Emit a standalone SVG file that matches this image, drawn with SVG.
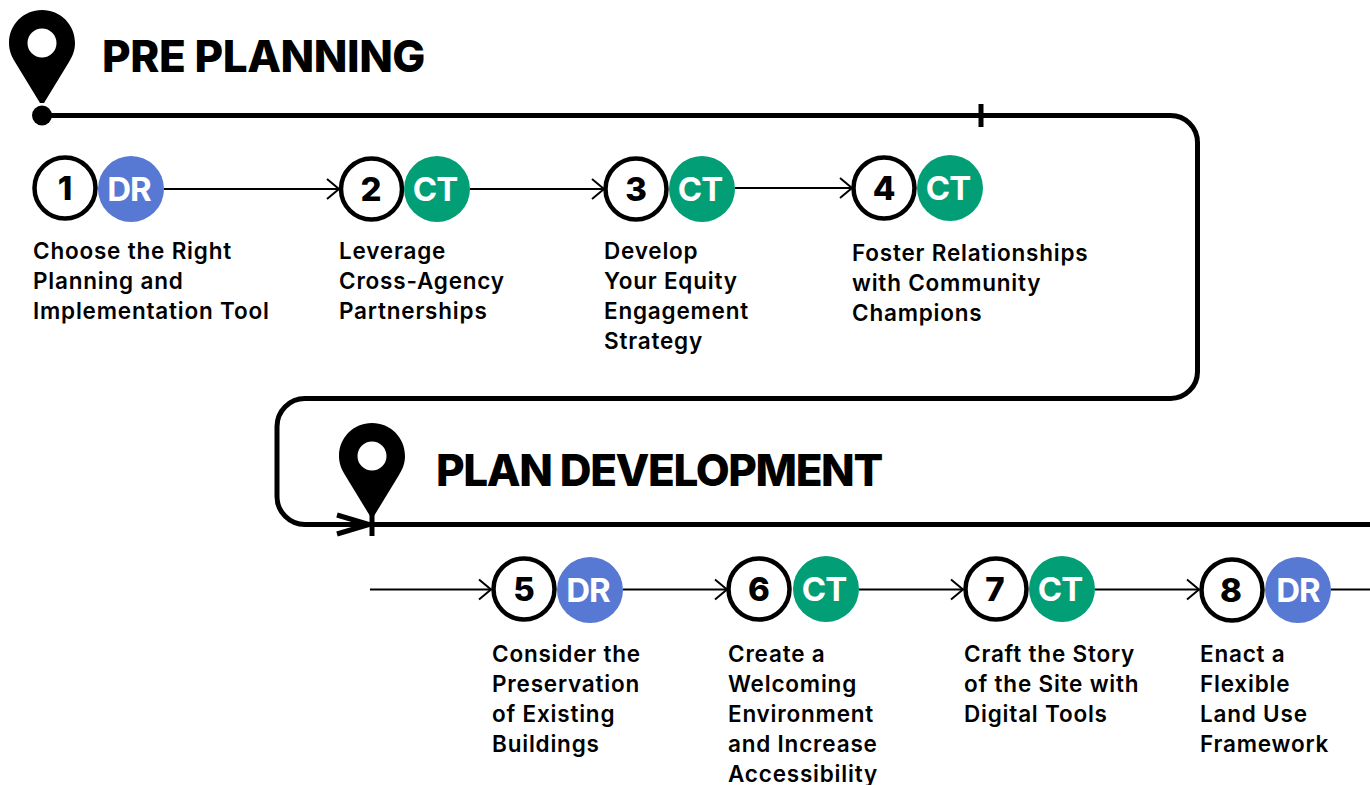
<svg xmlns="http://www.w3.org/2000/svg" width="1370" height="785" viewBox="0 0 1370 785">
<style>
text{font-family:"Inter","Liberation Sans",sans-serif;fill:#000}
.h{font-size:44px;font-weight:800}
.l{font-size:22.500px;font-weight:600;letter-spacing:0.8px}
.n{font-size:33px;font-weight:800;text-anchor:middle}
.b{font-size:33px;font-weight:700;text-anchor:middle;fill:#fff;letter-spacing:-1px}
.ring{fill:#fff;stroke:#000;stroke-width:4.5}
.dr{fill:#5778d3}.ct{fill:#029f76}
.main{fill:none;stroke:#000;stroke-width:5}
.thin{fill:none;stroke:#000;stroke-width:2}
</style>
<defs>
<path id="pin" d="M0 0C-18.500 0-33 14.500-33 33C-33 41-30 47-27 52L-2 93H2L27 52C30 47 33 41 33 33C33 14.500 18.500 0 0 0ZM0 18.500A14.500 14.500 0 1 1 0 47.500A14.500 14.500 0 1 1 0 18.500Z" fill-rule="evenodd"/>
<path id="chev" d="M-12-10L0 0L-12 10" class="thin"/>
</defs>
<g id="connectors">
<path class="main" d="M42 115.500H1170A27 27 0 0 1 1197.500 142.500V371A27 27 0 0 1 1170 398.500H305A28 28 0 0 0 277 426.500V496.500A28 28 0 0 0 305 524.500H1370"/>
<path d="M981 104V127" stroke="#000" stroke-width="5" fill="none"/>
<path d="M372 510V536" stroke="#000" stroke-width="5" fill="none"/>
<path d="M337 515L369 524.500L337 534" fill="none" stroke="#000" stroke-width="5"/>
<path class="thin" d="M164 189H339M470 189H604M735 188H852"/>
<path class="thin" d="M370 589.500H491M623 589.500H727M859 589.500H963M1095 589.500H1199M1331 589.500H1370"/>
<use href="#chev" x="339" y="189"/>
<use href="#chev" x="604" y="189"/>
<use href="#chev" x="852" y="188"/>
<use href="#chev" x="491" y="589.500"/>
<use href="#chev" x="727" y="589.500"/>
<use href="#chev" x="963" y="589.500"/>
<use href="#chev" x="1199" y="589.500"/>
</g>
<g id="pre-planning">
<use href="#pin" x="42" y="10"/>
<circle cx="42" cy="115.500" r="10"/>
<text class="h" x="102" y="72" letter-spacing="-0.45">PRE PLANNING</text>
</g>
<g id="plan-development">
<use href="#pin" x="372" y="423"/>
<text class="h" x="436" y="486" letter-spacing="-1.4">PLAN DEVELOPMENT</text>
</g>
<g id="step-1"><circle class="ring" cx="65" cy="188" r="30.500"/><text class="n" x="65" y="200">1</text><circle class="dr" cx="131" cy="189" r="33"/><text class="b" x="129" y="201">DR</text>
<text class="l"><tspan x="33" y="259">Choose the Right</tspan><tspan x="33" y="289">Planning and</tspan><tspan x="33" y="319">Implementation Tool</tspan></text></g>
<g id="step-2"><circle class="ring" cx="371.500" cy="189" r="30.500"/><text class="n" x="371" y="201">2</text><circle class="ct" cx="437" cy="189" r="33"/><text class="b" x="435" y="201">CT</text>
<text class="l"><tspan x="339" y="259">Leverage</tspan><tspan x="339" y="289">Cross-Agency</tspan><tspan x="339" y="319">Partnerships</tspan></text></g>
<g id="step-3"><circle class="ring" cx="636" cy="189" r="30.500"/><text class="n" x="636" y="201">3</text><circle class="ct" cx="702" cy="189" r="33"/><text class="b" x="700" y="201">CT</text>
<text class="l"><tspan x="604" y="259">Develop</tspan><tspan x="604" y="289">Your Equity</tspan><tspan x="604" y="319">Engagement</tspan><tspan x="604" y="349">Strategy</tspan></text></g>
<g id="step-4"><circle class="ring" cx="884" cy="188" r="30.500"/><text class="n" x="884" y="200">4</text><circle class="ct" cx="950" cy="188" r="33"/><text class="b" x="948" y="200">CT</text>
<text class="l"><tspan x="852" y="261">Foster Relationships</tspan><tspan x="852" y="291">with Community</tspan><tspan x="852" y="321">Champions</tspan></text></g>
<g id="step-5"><circle class="ring" cx="524" cy="589" r="30.500"/><text class="n" x="524" y="601">5</text><circle class="dr" cx="590" cy="590" r="33"/><text class="b" x="588" y="602">DR</text>
<text class="l"><tspan x="492" y="662">Consider the</tspan><tspan x="492" y="692">Preservation</tspan><tspan x="492" y="722">of Existing</tspan><tspan x="492" y="752">Buildings</tspan></text></g>
<g id="step-6"><circle class="ring" cx="759" cy="589" r="30.500"/><text class="n" x="759" y="601">6</text><circle class="ct" cx="826" cy="589" r="33"/><text class="b" x="824" y="601">CT</text>
<text class="l"><tspan x="728" y="662">Create a</tspan><tspan x="728" y="692">Welcoming</tspan><tspan x="728" y="722">Environment</tspan><tspan x="728" y="752">and Increase</tspan><tspan x="728" y="782">Accessibility</tspan></text></g>
<g id="step-7"><circle class="ring" cx="996" cy="589" r="30.500"/><text class="n" x="995" y="601">7</text><circle class="ct" cx="1062" cy="589" r="33"/><text class="b" x="1060" y="601">CT</text>
<text class="l"><tspan x="964" y="662">Craft the Story</tspan><tspan x="964" y="692">of the Site with</tspan><tspan x="964" y="722">Digital Tools</tspan></text></g>
<g id="step-8"><circle class="ring" cx="1232" cy="590" r="30.500"/><text class="n" x="1231" y="602">8</text><circle class="dr" cx="1298" cy="590" r="33"/><text class="b" x="1298" y="602">DR</text>
<text class="l"><tspan x="1200" y="662">Enact a</tspan><tspan x="1200" y="692">Flexible</tspan><tspan x="1200" y="722">Land Use</tspan><tspan x="1200" y="752">Framework</tspan></text></g>
</svg>
